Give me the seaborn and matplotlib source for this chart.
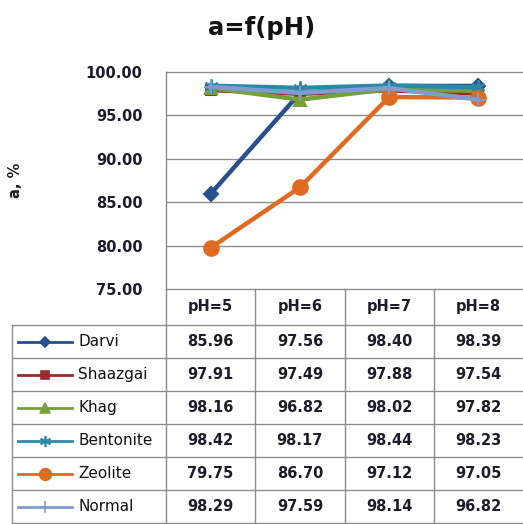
import matplotlib
matplotlib.use("Agg")
import matplotlib.pyplot as plt
import pandas as pd
import seaborn as sns

# --- Data ---
PH = [5, 6, 7, 8]
PH_LABELS = ["pH=5", "pH=6", "pH=7", "pH=8"]
SERIES = ["Darvi", "Shaazgai", "Khag", "Bentonite", "Zeolite", "Normal"]
darvi = [85.96, 97.56, 98.40, 98.39]
shaazgai = [97.91, 97.49, 97.88, 97.54]
khag = [98.16, 96.82, 98.02, 97.82]
bentonite = [98.42, 98.17, 98.44, 98.23]
zeolite = [79.75, 86.70, 97.12, 97.05]
normal = [98.29, 97.59, 98.14, 96.82]
VALUES = [darvi, shaazgai, khag, bentonite, zeolite, normal]
Y_TICKS = [75, 80, 85, 90, 95, 100]

# --- Style ---
STYLE = {
    "Darvi": dict(color="#27508f", marker="D", ms=7),
    "Shaazgai": dict(color="#982b2b", marker="s", ms=7.5),
    "Khag": dict(color="#76a03a", marker="^", ms=8.5),
    "Bentonite": dict(color="#2b8aa3", marker=(6, 2, 0), ms=10),
    "Zeolite": dict(color="#e06a1f", marker="o", ms=10.5),
    "Normal": dict(color="#7f9bd2", marker="+", ms=10),
}
GRID = "#8c8c8c"
TXT = "#1c1c2a"

df = pd.DataFrame({
    "series": [s for s in SERIES for _ in PH],
    "ph": PH * len(SERIES),
    "value": [v for vals in VALUES for v in vals],
})

W, H = 523, 524
fig = plt.figure(figsize=(W / 100, H / 100), dpi=100)
plt.rcParams["font.family"] = ["DejaVu Sans"]

# plot area in pixel coords
px_left, px_top, px_bottom = 166, 72, 289
ax = fig.add_axes([px_left / W, 1 - px_bottom / H, 1 - px_left / W, (px_bottom - px_top) / H])

for name in SERIES:
    st = STYLE[name]
    sub = df[df["series"] == name]
    sns.lineplot(data=sub, x="ph", y="value", ax=ax, color=st["color"], lw=3.2,
                 marker=st["marker"], markersize=st["ms"], markeredgewidth=1.5,
                 markeredgecolor=st["color"], legend=False, clip_on=False)

ax.set_xlim(PH[0] - 0.5, PH[-1] + 0.5)
ax.set_ylim(75, 100)
ax.set_yticks(Y_TICKS)
ax.set_yticklabels([f"{t:.2f}" for t in Y_TICKS], fontsize=10.5, fontweight="bold", color=TXT)
ax.set_xticks([])
ax.tick_params(axis="y", length=0, pad=17)
ax.set_xlabel("")
ax.set_ylabel("")
for y in Y_TICKS[1:-1]:
    ax.axhline(y, color=GRID, lw=1, zorder=0)
for side in ["left", "top", "bottom"]:
    ax.spines[side].set_color(GRID)
    ax.spines[side].set_linewidth(1)
ax.spines["right"].set_visible(False)

fig.text(0.5, 1 - 28 / H, "a=f(pH)", ha="center", va="center",
         fontsize=17.5, fontweight="bold", color="#111111")
fig.text(15 / W, 1 - 180 / H, "a, %", rotation=90, ha="center", va="center",
         fontsize=10.5, fontweight="bold", color=TXT)

# --- Data table below plot ---
tbl_left = 12
col_px = (W - px_left) / len(PH)
tax = fig.add_axes([tbl_left / W, 0, 1 - tbl_left / W, (H - px_bottom) / H])
xl = PH[0] - 0.5 - (px_left - tbl_left) / col_px
tax.set_xlim(xl, PH[-1] + 0.5)
tax.set_ylim(H - px_bottom, 0)
tax.axis("off")


def px2x(px):
    return xl + (px - tbl_left) / col_px


head_h, row_h = 36, 33
line_kw = dict(color=GRID, lw=1, clip_on=False)
for p in PH:
    tax.plot([p - 0.5, p - 0.5], [0, head_h], **line_kw)
    tax.text(p, head_h / 2, PH_LABELS[PH.index(p)], ha="center", va="center",
             fontsize=10.5, fontweight="bold", color=TXT)
n = len(SERIES)
for i in range(n + 1):
    y = head_h + row_h * i
    tax.plot([xl, PH[-1] + 0.5], [y, y], **line_kw)
for b in [xl] + [p - 0.5 for p in PH]:
    tax.plot([b, b], [head_h, head_h + row_h * n], **line_kw)

for i, (name, vals) in enumerate(zip(SERIES, VALUES)):
    yc = head_h + row_h * i + row_h / 2
    st = STYLE[name]
    tax.plot([px2x(18), px2x(45), px2x(72)], [yc, yc, yc], color=st["color"], lw=2,
             marker=st["marker"], markersize=st["ms"] * 0.8, markevery=[1],
             markeredgecolor=st["color"], markeredgewidth=1.2, clip_on=False)
    tax.text(px2x(78), yc, name, ha="left", va="center", fontsize=11, color="#111111")
    for p, v in zip(PH, vals):
        tax.text(p, yc, f"{v:.2f}", ha="center", va="center",
                 fontsize=10.5, fontweight="bold", color=TXT)

fig.savefig("out.png", dpi=100)
